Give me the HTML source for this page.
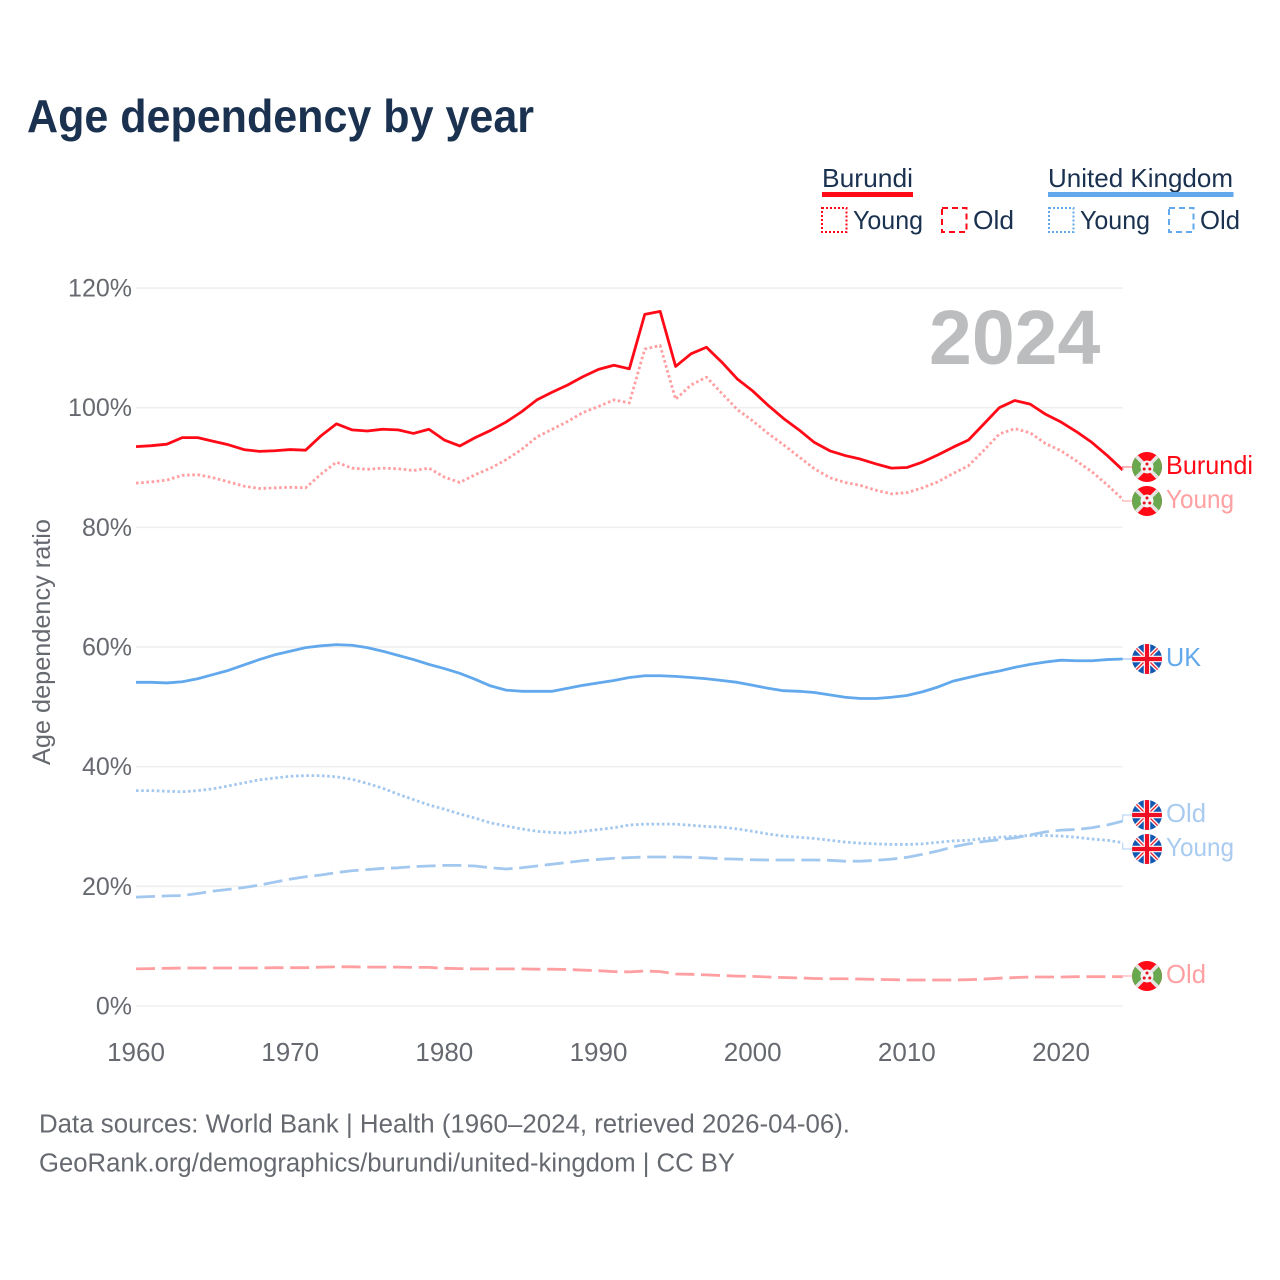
<!DOCTYPE html>
<html lang="en">
<head>
<meta charset="utf-8">
<title>Age dependency by year</title>
<style>
html,body{margin:0;padding:0;background:#fff;}
svg{display:block;}
text{font-family:"Liberation Sans",sans-serif;}
</style>
</head>
<body>
<svg id="chart" width="1280" height="1280" viewBox="0 0 1280 1280" xmlns="http://www.w3.org/2000/svg">
<defs>
<clipPath id="flag-clip"><circle cx="0" cy="0" r="15"/></clipPath>
<g id="flag-bi" clip-path="url(#flag-clip)">
<rect x="-15" y="-15" width="30" height="30" fill="#ff0a16"/>
<polygon points="-15,-15 0,0 -15,15" fill="#6aa84f"/>
<polygon points="15,-15 0,0 15,15" fill="#6aa84f"/>
<path d="M-15,-15L15,15M15,-15L-15,15" stroke="#e4e4e4" stroke-width="3.6"/>
<circle r="6.500" fill="#f4f4f4"/>
<circle cx="0" cy="-3" r="1.500" fill="#e8101c"/>
<circle cx="-2.800" cy="2" r="1.500" fill="#e8101c"/>
<circle cx="2.800" cy="2" r="1.500" fill="#e8101c"/>
</g>
<g id="flag-uk" clip-path="url(#flag-clip)">
<rect x="-15" y="-15" width="30" height="30" fill="#1257b0"/>
<path d="M-15,-15L15,15M15,-15L-15,15" stroke="#fff" stroke-width="4"/>
<path d="M-15,-15L15,15M15,-15L-15,15" stroke="#ef2b3a" stroke-width="1.400"/>
<path d="M0,-15V15M-15,0H15" stroke="#fff" stroke-width="6.500"/>
<path d="M0,-15V15M-15,0H15" stroke="#ef0f24" stroke-width="4.200"/>
</g>
</defs>

<text x="27" y="132" font-size="46" font-weight="700" fill="#1a3150" textLength="507" lengthAdjust="spacingAndGlyphs">Age dependency by year</text>

<g font-size="26" fill="#1a3150">
<text x="822" y="187" textLength="91" lengthAdjust="spacingAndGlyphs">Burundi</text>
<rect x="822" y="192" width="91" height="5" fill="#ff0a16"/>
<text x="1048" y="187" textLength="185" lengthAdjust="spacingAndGlyphs">United Kingdom</text>
<rect x="1048" y="192" width="185.5" height="5" fill="#62a8ec"/>
<rect x="822" y="208" width="24.500" height="24" fill="none" stroke="#ff0a16" stroke-width="2" stroke-dasharray="2 2"/>
<text x="853" y="229" textLength="70" lengthAdjust="spacingAndGlyphs">Young</text>
<rect x="942" y="208" width="24.500" height="24" fill="none" stroke="#ff0a16" stroke-width="2" stroke-dasharray="6 4"/>
<text x="973" y="229" textLength="41" lengthAdjust="spacingAndGlyphs">Old</text>
<rect x="1049" y="208" width="24.500" height="24" fill="none" stroke="#62a8ec" stroke-width="2" stroke-dasharray="2 2"/>
<text x="1080" y="229" textLength="70" lengthAdjust="spacingAndGlyphs">Young</text>
<rect x="1169" y="208" width="24.500" height="24" fill="none" stroke="#62a8ec" stroke-width="2" stroke-dasharray="6 4"/>
<text x="1200" y="229" textLength="40" lengthAdjust="spacingAndGlyphs">Old</text>
</g>

<g id="grid"></g>
<g id="yticks" font-size="25" fill="#666a70" text-anchor="end"></g>
<g id="xticks" font-size="26" fill="#666a70" text-anchor="middle"></g>
<text transform="translate(50,642) rotate(-90)" font-size="25" fill="#666a70" text-anchor="middle" textLength="246" lengthAdjust="spacingAndGlyphs">Age dependency ratio</text>

<text x="929" y="364" font-size="77" font-weight="700" fill="#bcbdbe" style="font-family:'Liberation Sans',sans-serif">2024</text>

<g id="series"></g>
<g id="leaders"></g>

<g font-size="26">
<use href="#flag-bi" x="1147" y="467"/>
<text x="1166" y="474" fill="#ff0a16" textLength="87" lengthAdjust="spacingAndGlyphs">Burundi</text>
<use href="#flag-bi" x="1147" y="501"/>
<text x="1166" y="508" fill="#ffa0a2" textLength="68" lengthAdjust="spacingAndGlyphs">Young</text>
<use href="#flag-uk" x="1147" y="659"/>
<text x="1166" y="666" fill="#62a8ec" textLength="35" lengthAdjust="spacingAndGlyphs">UK</text>
<use href="#flag-uk" x="1147" y="815"/>
<text x="1166" y="822" fill="#a9cbf0" textLength="40" lengthAdjust="spacingAndGlyphs">Old</text>
<use href="#flag-uk" x="1147" y="849"/>
<text x="1166" y="856" fill="#a9cbf0" textLength="68" lengthAdjust="spacingAndGlyphs">Young</text>
<use href="#flag-bi" x="1147" y="976"/>
<text x="1166" y="983" fill="#ffa0a2" textLength="40" lengthAdjust="spacingAndGlyphs">Old</text>
</g>

<g font-size="25.500" fill="#666a70">
<text x="39" y="1132.500" textLength="811" lengthAdjust="spacingAndGlyphs">Data sources: World Bank | Health (1960–2024, retrieved 2026-04-06).</text>
<text x="39" y="1171.500" textLength="696" lengthAdjust="spacingAndGlyphs">GeoRank.org/demographics/burundi/united-kingdom | CC BY</text>
</g>
</svg>

<script>
const firstYear = 1960;
const xTickLabels = [1960, 1970, 1980, 1990, 2000, 2010, 2020];
const yTickLabels = [0, 20, 40, 60, 80, 100, 120];

const burundiTotal = [93.5,93.65,93.9,95.0,95.0,94.4,93.8,93.0,92.7,92.8,93.0,92.9,95.3,97.3,96.3,96.1,96.4,96.3,95.7,96.4,94.6,93.6,95.0,96.2,97.6,99.3,101.3,102.6,103.8,105.2,106.4,107.1,106.5,115.6,116.1,106.9,109.0,110.1,107.6,104.8,102.8,100.4,98.2,96.3,94.2,92.8,92.0,91.4,90.6,89.9,90.0,90.9,92.1,93.4,94.6,97.3,100.0,101.2,100.6,98.9,97.6,96.0,94.2,92.0,89.6];
const burundiYoung = [87.4,87.6,87.9,88.7,88.8,88.3,87.6,86.9,86.5,86.6,86.7,86.6,88.9,90.9,89.9,89.7,89.9,89.8,89.5,89.9,88.4,87.5,88.8,89.9,91.3,93.0,95.1,96.4,97.7,99.2,100.2,101.3,100.8,109.8,110.4,101.4,103.8,105.1,102.4,99.7,97.8,95.7,93.8,91.8,89.8,88.3,87.5,87.0,86.2,85.6,85.8,86.6,87.6,89.0,90.3,92.9,95.6,96.5,95.8,94.0,92.8,91.1,89.3,87.1,84.7];
const burundiOld = [6.2,6.25,6.3,6.35,6.35,6.35,6.35,6.35,6.35,6.4,6.4,6.4,6.5,6.55,6.55,6.5,6.5,6.5,6.45,6.45,6.3,6.25,6.2,6.2,6.2,6.2,6.15,6.15,6.1,6.0,5.9,5.75,5.7,5.85,5.75,5.35,5.3,5.2,5.1,5.0,4.95,4.85,4.75,4.7,4.6,4.55,4.55,4.5,4.45,4.4,4.35,4.35,4.35,4.35,4.4,4.5,4.65,4.75,4.85,4.85,4.85,4.9,4.9,4.9,4.9];
const ukTotal = [54.1,54.1,54.0,54.2,54.7,55.4,56.1,57.0,57.9,58.7,59.3,59.9,60.2,60.4,60.3,59.9,59.3,58.6,57.9,57.1,56.4,55.6,54.6,53.5,52.8,52.6,52.6,52.6,53.1,53.6,54.0,54.4,54.9,55.2,55.2,55.1,54.9,54.7,54.4,54.1,53.6,53.1,52.7,52.6,52.4,52.0,51.6,51.4,51.4,51.6,51.9,52.5,53.3,54.3,54.9,55.5,56.0,56.6,57.1,57.5,57.8,57.7,57.7,57.9,58.0];
const ukYoung = [36.0,36.0,35.9,35.8,36.0,36.3,36.8,37.3,37.8,38.1,38.4,38.5,38.5,38.3,37.9,37.2,36.4,35.4,34.5,33.6,32.9,32.1,31.4,30.6,30.1,29.6,29.2,29.0,28.9,29.2,29.5,29.8,30.25,30.4,30.4,30.4,30.2,30.0,29.9,29.6,29.2,28.75,28.4,28.2,28.0,27.7,27.4,27.2,27.1,27.0,27.0,27.1,27.35,27.6,27.7,28.0,28.2,28.35,28.5,28.5,28.4,28.2,27.9,27.7,27.3];
const ukOld = [18.2,18.3,18.4,18.45,18.8,19.2,19.5,19.8,20.2,20.7,21.2,21.6,21.9,22.3,22.6,22.8,23.0,23.1,23.3,23.4,23.5,23.5,23.4,23.1,22.9,23.1,23.4,23.7,24.0,24.3,24.5,24.7,24.8,24.9,24.9,24.9,24.85,24.75,24.6,24.55,24.45,24.4,24.4,24.4,24.4,24.35,24.2,24.2,24.35,24.55,24.85,25.35,25.9,26.6,27.1,27.5,27.8,28.1,28.6,29.1,29.4,29.5,29.8,30.25,30.9];

const NS = 'http://www.w3.org/2000/svg';
const xScale = function (year) { return 136 + (year - 1960) * 15.417; };
const yScale = function (pct) { return 1006 - pct * 5.983; };

const grid = document.getElementById('grid');
const yticks = document.getElementById('yticks');
const xticks = document.getElementById('xticks');
const seriesLayer = document.getElementById('series');
const leaders = document.getElementById('leaders');

yTickLabels.forEach(function (v) {
  const line = document.createElementNS(NS, 'line');
  
  
  line.setAttribute('x1', 136);
  line.setAttribute('x2', xScale(2024));
  line.setAttribute('y1', yScale(v));
  line.setAttribute('y2', yScale(v));
  line.setAttribute('stroke', '#efefef');
  line.setAttribute('stroke-width', 1.6);
  grid.appendChild(line);
  const t = document.createElementNS(NS, 'text');
  
  
  t.setAttribute('x', 132);
  t.setAttribute('y', yScale(v) + 8.5);
  t.textContent = v + '%';
  yticks.appendChild(t);
});

xTickLabels.forEach(function (v) {
  const t = document.createElementNS(NS, 'text');
  
  
  t.setAttribute('x', xScale(v));
  t.setAttribute('y', 1061);
  t.textContent = v;
  xticks.appendChild(t);
});

function drawSeries(values, name, color, dash, width) {
  const pts = values.map(function (v, i) {
    return xScale(firstYear + i).toFixed(2) + ',' + yScale(v).toFixed(2);
  }).join(' ');
  const line = document.createElementNS(NS, 'polyline');
  
  
  line.setAttribute('points', pts);
  line.setAttribute('fill', 'none');
  line.setAttribute('stroke', color);
  line.setAttribute('stroke-width', width);
  line.setAttribute('stroke-linejoin', 'round');
  if (dash) line.setAttribute('stroke-dasharray', dash);
  seriesLayer.appendChild(line);
}

function drawLeader(values, name, color, flagY) {
  const xEnd = xScale(firstYear + values.length - 1);
  const yEnd = yScale(values[values.length - 1]);
  const l = document.createElementNS(NS, 'polyline');
  
  
  l.setAttribute('points', xEnd + ',' + yEnd + ' ' + xEnd + ',' + flagY + ' 1133,' + flagY);
  l.setAttribute('fill', 'none');
  l.setAttribute('stroke', color);
  l.setAttribute('stroke-width', 1.2);
  leaders.appendChild(l);
}

drawSeries(burundiOld, 'line-burundi-old', '#ff9fa1', '19 6.700', 2.8);
drawSeries(ukOld, 'line-uk-old', '#a3c8f0', '19 6.700', 2.8);
drawSeries(ukYoung, 'line-uk-young', '#a3c8f0', '2.600 2.600', 2.8);
drawSeries(burundiYoung, 'line-burundi-young', '#ff9fa1', '2.600 2.600', 2.8);
drawSeries(ukTotal, 'line-uk-total', '#62a8ec', null, 2.8);
drawSeries(burundiTotal, 'line-burundi-total', '#ff0a16', null, 2.8);

drawLeader(burundiTotal, 'leader-burundi-total', '#ff8a8f', 467);
drawLeader(burundiYoung, 'leader-burundi-young', '#ffb5b7', 501);
drawLeader(burundiOld, 'leader-burundi-old', '#ffb5b7', 976);
drawLeader(ukTotal, 'leader-uk-total', '#a3c8f0', 659);
drawLeader(ukOld, 'leader-uk-old', '#bcd6f3', 815);
drawLeader(ukYoung, 'leader-uk-young', '#bcd6f3', 849);
</script>
</body>
</html>
